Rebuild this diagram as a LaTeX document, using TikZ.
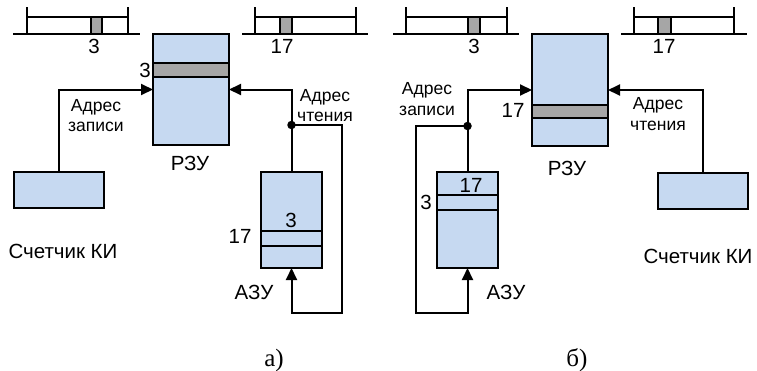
\documentclass[tikz,border=0pt]{standalone}
\usepackage{fontspec}
\setmainfont{Liberation Sans}
\newfontfamily\capserif{Liberation Serif}
\usetikzlibrary{arrows.meta}
\definecolor{boxblue}{HTML}{C6D9F1}
\definecolor{bandgray}{HTML}{A6A6A6}
\tikzset{
 blk/.style={draw=black, line width=2pt, fill=boxblue, inner sep=0pt, outer sep=0pt},
 grayband/.style={draw=black, line width=2pt, fill=bandgray, inner sep=0pt, outer sep=0pt},
 wire/.style={line width=2pt},
 arr/.style={wire, -{Triangle[length=12pt,width=11pt]}},
 lbl/.style={font=\fontsize{20.5}{24}\selectfont, inner sep=0pt, anchor=base},
 slbl/.style={font=\fontsize{17.5}{20}\selectfont, inner sep=0pt, anchor=base},
 captxt/.style={font=\capserif\fontsize{25}{28}\selectfont, inner sep=0pt, anchor=base},
 dotn/.style={circle, fill=black, inner sep=0pt, minimum size=8.5pt},
 tl/.style={line width=2pt}
}
\begin{document}
\begin{tikzpicture}[x=1pt,y=-1pt]
\useasboundingbox (0,0) rectangle (757,370);

% ---------- timelines ----------
% a, 1
\draw[tl] (13,34) -- (140,34);
\draw[tl] (27,7) -- (27,34) (128,7) -- (128,34) (27,17) -- (128,17);
\draw[grayband] (91,17) rectangle (102,34);
% a, 2
\draw[tl] (242,34) -- (368,34);
\draw[tl] (255,7) -- (255,34) (356,7) -- (356,34) (255,17) -- (356,17);
\draw[grayband] (280,17) rectangle (292,34);
% b, 1
\draw[tl] (393,34) -- (519,34);
\draw[tl] (406,7) -- (406,34) (507,7) -- (507,34) (406,17) -- (507,17);
\draw[grayband] (468,17) rectangle (480,34);
% b, 2
\draw[tl] (621,34) -- (747,34);
\draw[tl] (634,7) -- (634,34) (734,7) -- (734,34) (634,17) -- (734,17);
\draw[grayband] (658,17) rectangle (671,34);

\node[lbl] (ta1) at (94,53) {3};
\node[lbl] (ta2) at (282,53) {17};
\node[lbl] (tb1) at (474,53) {3};
\node[lbl] (tb2) at (664,53) {17};

% ---------- panel a ----------
\node[blk, minimum width=76pt, minimum height=111pt] (rzuA) at (191,89.5) {};
\node[grayband, minimum width=76pt, minimum height=14pt] (bandA) at (191,70) {};
\node[lbl] (n3A) at (145,77) {3};
\node[lbl] (rzuAl) at (190,170) {РЗУ};

\node[blk, minimum width=90pt, minimum height=36pt] (cntA) at (59,190) {};
\node[lbl] (cntAl) at (63,258) {Счетчик КИ};

\node[blk, minimum width=61pt, minimum height=96pt] (azuA) at (291.5,220) {};
\node[blk, minimum width=61pt, minimum height=15pt] (azubandA) at (291.5,238.5) {};
\node[lbl] (a3A) at (291,227) {3};
\node[lbl] (a17A) at (240,243) {17};
\node[lbl] (azuAl) at (254,299) {АЗУ};

\node[slbl] (wrA1) at (96,111) {Адрес};
\node[slbl] (wrA2) at (96,131) {записи};
\node[slbl] (rdA1) at (325,101) {Адрес};
\node[slbl] (rdA2) at (325,121) {чтения};

\draw[arr] (cntA.north) |- (rzuA.west);
\node[dotn] (dA) at (291.5,125) {};
\draw[arr] (azuA.north) -- (azuA.north |- rzuA.east) -- (rzuA.east);
\coordinate (loopA) at (342,313);
\draw[arr] (dA.center) -| (loopA) -- (loopA -| azuA.south) -- (azuA.south);

\node[captxt] (capA) at (274,366) {а)};

% ---------- panel b ----------
\node[blk, minimum width=76pt, minimum height=112pt] (rzuB) at (570,90) {};
\node[grayband, minimum width=76pt, minimum height=13pt] (bandB) at (570,111.5) {};
\node[lbl] (n17B) at (513,117) {17};
\node[lbl] (rzuBl) at (567,175) {РЗУ};

\node[blk, minimum width=90pt, minimum height=36pt] (cntB) at (703,191) {};
\node[lbl] (cntBl) at (698,263) {Счетчик КИ};

\node[blk, minimum width=61pt, minimum height=96pt] (azuB) at (467.5,220) {};
\node[blk, minimum width=61pt, minimum height=15pt] (azubandB) at (467.5,202.5) {};
\node[lbl] (a17B) at (471,192) {17};
\node[lbl] (a3B) at (426,209) {3};
\node[lbl] (azuBl) at (506,299) {АЗУ};

\node[slbl] (wrB1) at (427,94) {Адрес};
\node[slbl] (wrB2) at (427,115) {записи};
\node[slbl] (rdB1) at (658,109) {Адрес};
\node[slbl] (rdB2) at (658,130) {чтения};

\draw[arr] (cntB.north) |- (rzuB.east);
\node[dotn] (dB) at (467.5,126) {};
\draw[arr] (azuB.north) -- (azuB.north |- rzuB.west) -- (rzuB.west);
\coordinate (loopB) at (416,313);
\draw[arr] (dB.center) -| (loopB) -- (loopB -| azuB.south) -- (azuB.south);

\node[captxt] (capB) at (577,366) {б)};
\end{tikzpicture}
\end{document}
